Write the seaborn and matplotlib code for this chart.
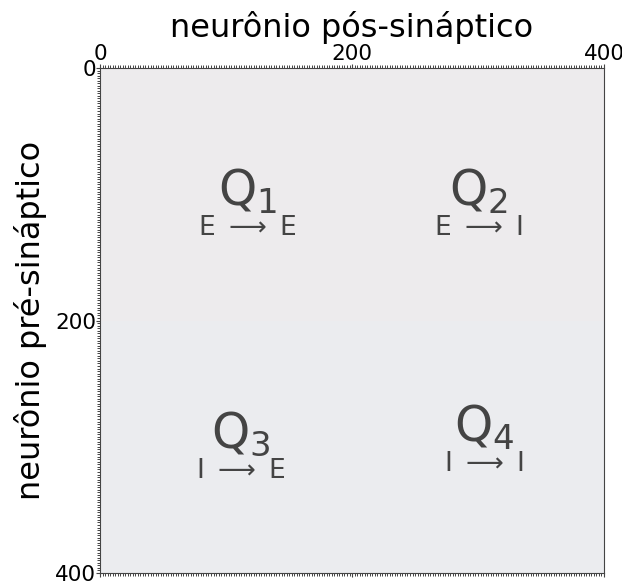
import numpy as np
import matplotlib
matplotlib.use("Agg")
import matplotlib.pyplot as plt
from matplotlib.colors import LinearSegmentedColormap
from matplotlib.ticker import MultipleLocator
import seaborn as sns

sns.set_style("white")
plt.rcParams["font.family"] = ["DejaVu Sans"]
plt.rcParams["mathtext.fontset"] = "dejavusans"
plt.rcParams["text.color"] = "black"
plt.rcParams["axes.labelcolor"] = "black"
plt.rcParams["xtick.color"] = "black"
plt.rcParams["ytick.color"] = "black"

# Network layout: excitatory block first, inhibitory block second
n_exc = 200
n_inh = 200
# Mean connection weight in each block (rows: pre, cols: post)
block_weights = [[0.55, 0.55],
                 [0.45, 0.45]]
quad_names = ["$\\mathrm{Q}_1$", "$\\mathrm{Q}_2$", "$\\mathrm{Q}_3$", "$\\mathrm{Q}_4$"]
quad_links = ["E $\\longrightarrow$ E", "E $\\longrightarrow$ I",
              "I $\\longrightarrow$ E", "I $\\longrightarrow$ I"]
quad_x = [117, 300, 112, 305]
quad_y = [98, 98, 290, 285]
tick_vals = [0, 200, 400]

sizes = [n_exc, n_inh]
W = np.block([[np.full((sizes[i], sizes[j]), block_weights[i][j]) for j in range(2)]
              for i in range(2)])

cmap = LinearSegmentedColormap.from_list("w", ["#ebecef", "#edebed"])

fig = plt.figure(figsize=(6.22, 5.82), dpi=100)
ax = fig.add_axes([0.161, 0.0155, 0.81, 0.8675])
sns.heatmap(W, ax=ax, cmap=cmap, vmin=0.45, vmax=0.55, cbar=False,
            linewidths=0, square=False,
            xticklabels=False, yticklabels=False)

ax.set_xticks(tick_vals)
ax.set_xticklabels([str(v) for v in tick_vals])
ax.set_yticks(tick_vals)
ax.set_yticklabels([str(v) for v in tick_vals], rotation=0)
ax.xaxis.set_minor_locator(MultipleLocator(2))
ax.yaxis.set_minor_locator(MultipleLocator(2))
ax.xaxis.tick_top()
ax.xaxis.set_label_position("top")
ax.tick_params(axis="x", which="both", top=True, bottom=True, labeltop=True,
               labelbottom=False, labelsize=15.5, pad=0)
ax.tick_params(axis="y", which="both", left=True, right=False, labelsize=15.5, pad=0)
ax.tick_params(which="major", length=3, width=0.8, color="#444444")
ax.tick_params(which="minor", length=2.5, width=0.7, color="#444444")
ax.set_xlabel("neurônio pós-sináptico", fontsize=23, labelpad=5)
ax.set_ylabel("neurônio pré-sináptico", fontsize=23, labelpad=6)

for s in ax.spines.values():
    s.set_visible(True)
    s.set_color("#444444")
    s.set_linewidth(0.8)

for k in range(4):
    ax.text(quad_x[k], quad_y[k], quad_names[k], fontsize=35, color="#444444",
            ha="center", va="center")
    ax.text(quad_x[k], quad_y[k] + 29, quad_links[k], fontsize=19, color="#444444",
            ha="center", va="center")

fig.savefig("out.png", dpi=100)
